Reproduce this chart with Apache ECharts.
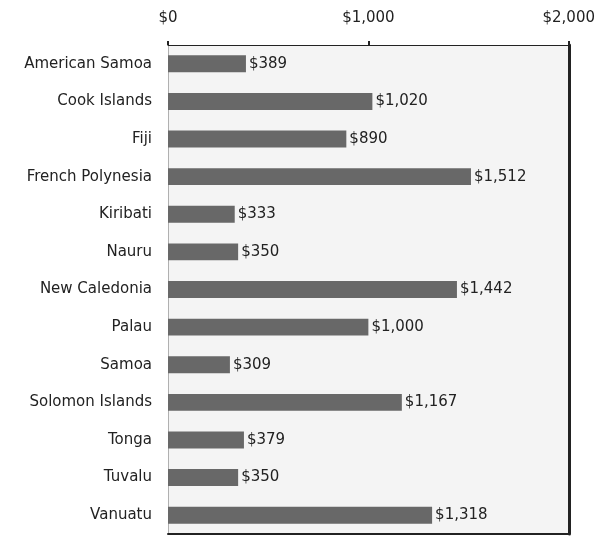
<!DOCTYPE html>
<html>
<head>
<meta charset="utf-8">
<script src="https://cdn.jsdelivr.net/npm/echarts@6/dist/echarts.min.js"></script>
<style>
  html, body { margin: 0; padding: 0; background: #fff; }
  #chart { width: 598px; height: 538px; }
</style>
</head>
<body>
<div id="chart"></div>
<script>
// Spending per person by Pacific island territory (US dollars)
const categories = [
  'American Samoa', 'Cook Islands', 'Fiji', 'French Polynesia', 'Kiribati',
  'Nauru', 'New Caledonia', 'Palau', 'Samoa', 'Solomon Islands',
  'Tonga', 'Tuvalu', 'Vanuatu'
];
const values = [389, 1020, 890, 1512, 333, 350, 1442, 1000, 309, 1167, 379, 350, 1318];
const xTicks = [0, 1000, 2000];

const fontFamily = 'DejaVu Sans';
const fontSize = 15;
const money = v => '$' + Number(v).toLocaleString('en-US');

const chart = echarts.init(document.getElementById('chart'));
chart.setOption({
  animation: false,
  grid: {
    left: 168, right: 27, top: 45, bottom: 4,
    show: true, backgroundColor: '#f4f4f4', borderWidth: 0
  },
  xAxis: [
    {
      type: 'value', position: 'top',
      min: xTicks[0], max: xTicks[xTicks.length - 1], interval: 1000,
      axisLine: { show: true, lineStyle: { color: '#222', width: 1 } },
      axisTick: { show: true, length: 4, lineStyle: { color: '#222', width: 2 } },
      axisLabel: {
        margin: 19, color: '#222', fontFamily, fontSize,
        formatter: money
      },
      splitLine: { show: false }
    },
    {
      // bottom frame edge
      type: 'value', position: 'bottom',
      min: xTicks[0], max: xTicks[xTicks.length - 1],
      axisLine: { show: true, onZero: false, lineStyle: { color: '#222', width: 2 } },
      axisTick: { show: false }, axisLabel: { show: false }, splitLine: { show: false }
    }
  ],
  yAxis: [
    {
      type: 'category', data: categories, inverse: true,
      axisLine: { show: true, onZero: false, lineStyle: { color: '#b0b0b0', width: 1 } },
      axisTick: { show: false },
      axisLabel: { margin: 16, color: '#222', fontFamily, fontSize }
    },
    {
      // right frame edge
      type: 'category', data: categories, inverse: true, position: 'right',
      axisLine: { show: true, onZero: false, lineStyle: { color: '#222', width: 3 } },
      axisTick: { show: false }, axisLabel: { show: false }
    }
  ],
  series: [{
    type: 'bar',
    data: values,
    barWidth: '45%',
    itemStyle: { color: '#686868' },
    label: {
      show: true, position: 'right', distance: 3,
      color: '#222', fontFamily, fontSize,
      formatter: p => money(p.value)
    }
  }]
});
</script>
</body>
</html>
